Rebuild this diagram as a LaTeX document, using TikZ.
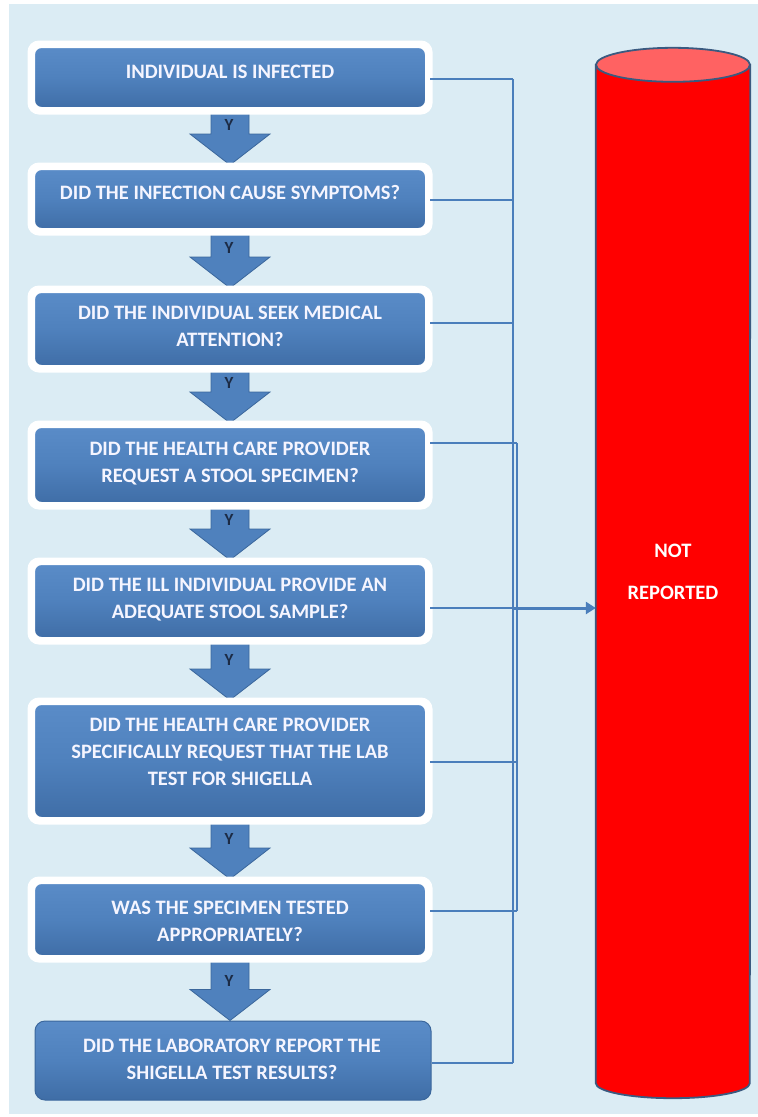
\documentclass[tikz,border=0pt]{standalone}
\usepackage{fontspec}
\setmainfont{Carlito}
\usetikzlibrary{calc,arrows.meta}

\definecolor{bgblue}{HTML}{DBECF4}
\definecolor{boxblue}{HTML}{4F81BD}
\definecolor{boxtop}{HTML}{5A8CC8}
\definecolor{boxbot}{HTML}{3F6DA6}
\definecolor{boxedge}{HTML}{3B679C}
\definecolor{arrowedge}{HTML}{3B679C}
\definecolor{linkblue}{HTML}{4A7EBB}
\definecolor{cylred}{HTML}{FF0000}
\definecolor{cyltop}{HTML}{FF6262}
\definecolor{cyledge}{HTML}{3A5A80}
\definecolor{ylabel}{HTML}{1C2B45}

% block arrow from the bottom of one box to the top of the next, labelled Y
\newcommand{\yesarrow}[3]{%
  \draw[blockarrow] let \p1=(#1.south), \p2=(#2.north) in
    (\x1-19pt,\y1) -- (\x1+19pt,\y1) -- (\x1+19pt,\y2+31pt) -- (\x1+40pt,\y2+31pt)
    -- (\x1,\y2) -- (\x1-40pt,\y2+31pt) -- (\x1-19pt,\y2+31pt) -- cycle
    (\x1-1pt,\y2+40pt) node[ylbl] (#3) {Y};}

\begin{document}
\begin{tikzpicture}[x=1pt,y=-1pt,
  stepbox/.style={rounded corners=9pt, draw=white, line width=5pt,
    top color=boxtop, bottom color=boxbot, middle color=boxblue,
    minimum width=395pt, inner sep=0pt},
  lastbox/.style={rounded corners=10pt, draw=boxedge, line width=1pt,
    top color=boxtop, bottom color=boxbot, middle color=boxblue,
    minimum width=396pt, inner sep=0pt},
  steptext/.style={font=\bfseries\fontsize{20.5}{27}\selectfont, text=white!96!blue,
    align=center, inner sep=0pt},
  blockarrow/.style={fill=boxblue, draw=arrowedge, line width=0.8pt, line join=miter},
  ylbl/.style={font=\bfseries\fontsize{17}{18}\selectfont, text=ylabel, inner sep=0pt},
  conn/.style={draw=linkblue, line width=1.6pt},
  bus/.style={draw=linkblue, line width=2.4pt},
  cyltext/.style={font=\bfseries\fontsize{20.5}{22}\selectfont, text=white, inner sep=0pt}]

% page and background panel
\useasboundingbox (0,0) rectangle (758,1117);
\fill[white] (0,0) rectangle (758,1117);
\fill[bgblue] (9,4) rectangle (758,1114);

% boxes of the flow
\node[stepbox, minimum height=64pt]  (b1) at (230,77.5)  {};
\node[stepbox, minimum height=63pt]  (b2) at (230,199)   {};
\node[stepbox, minimum height=77pt]  (b3) at (230,329)   {};
\node[stepbox, minimum height=79pt]  (b4) at (230,465)   {};
\node[stepbox, minimum height=77pt]  (b5) at (230,601)   {};
\node[stepbox, minimum height=117pt] (b6) at (230,761)   {};
\node[stepbox, minimum height=76pt]  (b7) at (230,919.5) {};
\node[lastbox, minimum height=79pt]  (b8) at (233,1060.5) {};

% block arrows between boxes
\yesarrow{b1}{b2}{y1}
\yesarrow{b2}{b3}{y2}
\yesarrow{b3}{b4}{y3}
\yesarrow{b4}{b5}{y4}
\yesarrow{b5}{b6}{y5}
\yesarrow{b6}{b7}{y6}
\yesarrow{b7}{b8}{y7}

% white frames drawn again over the arrow ends
\foreach \b in {b1,b2,b3,b4,b5,b6,b7}{
  \draw[white, line width=5pt, rounded corners=9pt] (\b.north west) rectangle (\b.south east);
}

% box texts
\node[steptext] (t1) at (230,72)    {INDIVIDUAL IS INFECTED};
\node[steptext] (t2) at (230,192)   {DID THE INFECTION CAUSE SYMPTOMS?};
\node[steptext] (t3) at (230,326.5) {DID THE INDIVIDUAL SEEK MEDICAL\\ATTENTION?};
\node[steptext] (t4) at (230,463.5) {DID THE HEALTH CARE PROVIDER\\REQUEST A STOOL SPECIMEN?};
\node[steptext] (t5) at (230,599.5) {DID THE ILL INDIVIDUAL PROVIDE AN\\ADEQUATE STOOL SAMPLE?};
\node[steptext] (t6) at (230,752)   {DID THE HEALTH CARE PROVIDER\\SPECIFICALLY REQUEST THAT THE LAB\\TEST FOR SHIGELLA};
\node[steptext] (t7) at (230,921)   {WAS THE SPECIMEN TESTED\\APPROPRIATELY?};
\node[steptext] (t8) at (232,1059.5) {DID THE LABORATORY REPORT THE\\SHIGELLA TEST RESULTS?};

% the NOT REPORTED cylinder
\node[minimum width=154pt, minimum height=1018pt, inner sep=0pt] (cyl) at (673,574) {};
\filldraw[fill=cylred, draw=cyledge, line width=1.8pt]
  (cyl.north west) -- (cyl.south west)
  arc[start angle=180, end angle=0, x radius=77, y radius=15]
  -- (cyl.north east) -- cycle;
\filldraw[fill=cyltop, draw=cyledge, line width=1.8pt]
  (cyl.north) ellipse[x radius=77, y radius=17];
\node[cyltext] (nr1) at (673,551) {NOT};
\node[cyltext] (nr2) at (673,593) {REPORTED};

% junction points of the "no" connectors
\coordinate (j1) at (513,79);
\coordinate (j2) at (513,200);
\coordinate (j3) at (513,323);
\coordinate (j4) at (517,443);
\coordinate (j5) at (513,608);
\coordinate (j6) at (517,762);
\coordinate (j7) at (517,911);
\coordinate (j8) at (513,1063);

% vertical collectors
\draw[bus] (j1) -- (j8);
\draw[conn] (j4) -- (j7);

% branches from each box
\draw[conn] (b1.east |- j1) -- (j1);
\draw[conn] (b2.east |- j2) -- (j2);
\draw[conn] (b3.east |- j3) -- (j3);
\draw[conn] (b4.east |- j4) -- (j4);
\draw[conn] (b5.east |- j5) -- (j5);
\draw[conn] (b6.east |- j6) -- (j6);
\draw[conn] (b7.east |- j7) -- (j7);
\draw[conn] (b8.east |- j8) -- (j8);

% arrow into the cylinder
\draw[draw=linkblue, line width=3pt, -{Triangle[length=10pt, width=12pt]}]
  (j5) -- (cyl.west |- j5);

\end{tikzpicture}
\end{document}
